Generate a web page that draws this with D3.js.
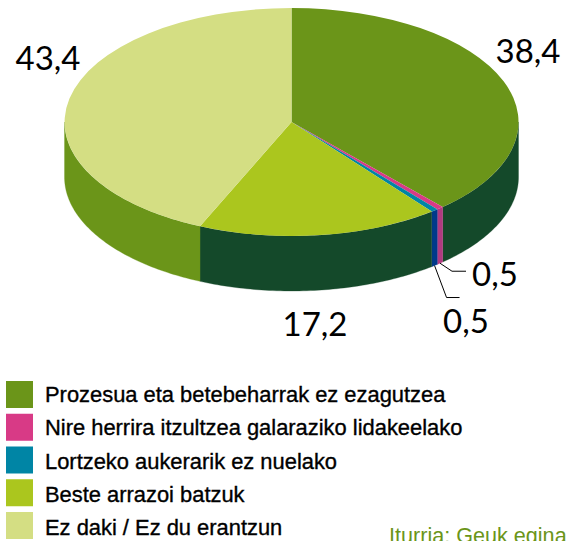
<!DOCTYPE html>
<html><head><meta charset="utf-8">
<style>html,body{margin:0;padding:0;background:#fff;overflow:hidden}svg{display:block}</style>
<script src="https://cdn.jsdelivr.net/npm/d3@7/dist/d3.min.js"></script></head>
<body><svg id="c" width="569" height="541"></svg>
<script>
const categories=["Prozesua eta betebeharrak ez ezagutzea","Nire herrira itzultzea galaraziko lidakeelako","Lortzeko aukerarik ez nuelako","Beste arrazoi batzuk","Ez daki / Ez du erantzun"];
const values=[38.4,0.5,0.5,17.2,43.4];
const valueLabels=["38,4","0,5","0,5","17,2","43,4"];
const topColors=["#6b9519","#d83a86","#0085a5","#abc61e","#d4de83"];
const sideColors=["#14492a","#b03a80","#003a8a","#14492a","#6b9519"];
const source="Iturria: Geuk egina";

const W=569,H=541,cx=291.5,cy=122,rx=227,ry=114,depth=55;
const svg=d3.select("#c");
const sx=d3.scaleLinear().domain([-1,1]).range([cx-rx,cx+rx]);
const sy=d3.scaleLinear().domain([-1,1]).range([cy-ry,cy+ry]);
const arcs=d3.pie().sort(null)(values);
const px=a=>sx(Math.sin(a)), py=a=>sy(-Math.cos(a));

// side walls (only the front half of the rim, from 90° to 270°)
const line=d3.line();
arcs.forEach((d,i)=>{
  const a0=Math.max(d.startAngle,Math.PI/2), a1=Math.min(d.endAngle,Math.PI*1.5);
  if(a1<=a0) return;
  const n=Math.max(2,Math.ceil((a1-a0)*60));
  const ang=d3.range(n+1).map(k=>a0+(a1-a0)*k/n);
  const pts=ang.map(a=>[px(a),py(a)]).concat(ang.slice().reverse().map(a=>[px(a),py(a)+depth]));
  svg.append("path").attr("d",line(pts)+"Z").attr("fill",sideColors[i]).attr("stroke",sideColors[i]).attr("stroke-width",0.3);
});
// top face
const arc=d3.arc().innerRadius(0).outerRadius(1);
const topFace=svg.append("g").attr("transform",`translate(${cx},${cy}) scale(${rx},${ry})`);
topFace.selectAll("path").data(arcs).join("path").attr("d",arc).attr("fill",(d,i)=>topColors[i]);

// leader lines for the two thin slices
const mid=d=>(d.startAngle+d.endAngle)/2;
const leader=[[arcs[1],[[12,8],[26,8]]],[arcs[2],[[12,32],[25,32]]]];
leader.forEach(([d,offs])=>{
  const x0=px(mid(d)),y0=py(mid(d))+depth;
  svg.append("path").attr("d",line([[x0,y0],[x0+offs[0][0],y0+offs[0][1]],[x0+offs[1][0],y0+offs[1][1]]]))
    .attr("fill","none").attr("stroke","#000").attr("stroke-width",1);
});

// value labels
const labelPos=[[528,63],[495,286],[466,333],[315,336],[48,70]];
svg.selectAll("text.v").data(valueLabels).join("text").attr("class","v")
  .attr("x",(d,i)=>labelPos[i][0]).attr("y",(d,i)=>labelPos[i][1])
  .attr("text-anchor","middle").attr("font-family","Lato").attr("font-size",33).attr("fill","#000").text(d=>d);

// legend
const ly=d3.scalePoint().domain(categories).range([394.5,525.5]);
const lt=d3.scalePoint().domain(categories).range([402,535]);
const lg=svg.append("g");
categories.forEach((c,i)=>{
  lg.append("rect").attr("x",6).attr("y",ly(c)-13.5).attr("width",27).attr("height",27).attr("fill",topColors[i]);
  lg.append("text").attr("x",45).attr("y",lt(c)).attr("font-family","Liberation Sans").attr("font-size",21.9)
    .attr("fill","#000").attr("stroke","#000").attr("stroke-width",0.35).text(c);
});
svg.append("text").attr("x",389).attr("y",543).attr("font-family","Liberation Sans").attr("font-size",21.6).attr("fill","#6b9519").text(source);
</script></body></html>
